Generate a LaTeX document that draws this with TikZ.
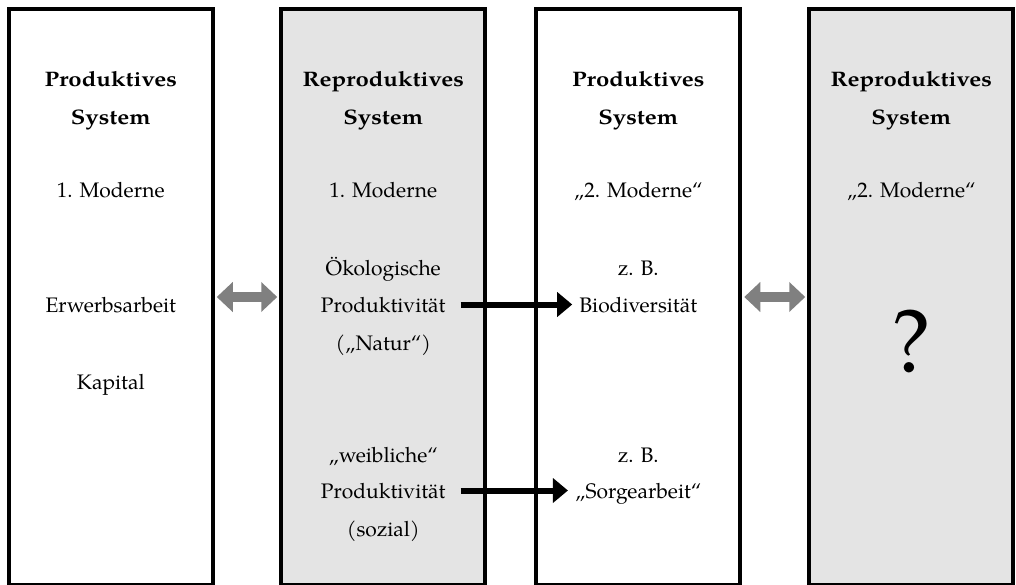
\documentclass[tikz,border=0pt]{standalone}
\usepackage{fontspec}
\setmainfont{TeX Gyre Pagella}[BoldFeatures={FakeStretch=1.14}]
\usepackage{tikz}
\usetikzlibrary{arrows.meta,positioning,calc}
\definecolor{repgray}{RGB}{228,228,228}
\definecolor{linkgray}{RGB}{128,128,128}

\begin{document}
\begin{tikzpicture}[x=1pt, y=-1pt,
    sysbox/.style={rectangle, draw=black, line width=4pt, minimum width=204pt, minimum height=576pt, inner sep=0pt},
    repbox/.style={sysbox, fill=repgray},
    lbl/.style={anchor=base, inner sep=3pt, text height=15pt, text depth=0pt, font=\fontsize{21}{25}\selectfont},
    title/.style={lbl, font=\fontsize{21}{25}\selectfont\bfseries},
    swap/.style={{Triangle[length=16pt,width=29pt]}-{Triangle[length=16pt,width=29pt]}, line width=10pt, linkgray, shorten <=2pt, shorten >=2pt},
    flow/.style={-{Triangle[length=15pt,width=24pt]}, line width=6pt, black}
  ]
    \useasboundingbox (0,0) rectangle (1016,585);

    \node[sysbox] (prod1) at (110.75, 297) {};
    \node[repbox] (repr1) at (383.25, 297) {};
    \node[sysbox] (prod2) at (638.25, 297) {};
    \node[repbox] (repr2) at (911.25, 297) {};

    % column 1
    \node[title] (t1a) at (110.75, 87) {Produktives};
    \node[title] (t1b) at (110.75, 125) {System};
    \node[lbl] (m1) at (110.75, 198) {1. Moderne};
    \node[lbl] (erwerb) at (110.75, 312) {Erwerbsarbeit};
    \node[lbl] (kapital) at (110.75, 389) {Kapital};

    % column 2
    \node[title] (t2a) at (383.25, 87) {Reproduktives};
    \node[title] (t2b) at (383.25, 125) {System};
    \node[lbl] (m2) at (383.25, 198) {1. Moderne};
    \node[lbl] (oeko) at (383.25, 275) {Ökologische};
    \node[lbl] (oekoprod) at (383.25, 312) {Produktivität};
    \node[lbl] (natur) at (383.25, 350) {(„Natur“)};
    \node[lbl] (weibl) at (383.25, 462) {„weibliche“};
    \node[lbl] (weiblprod) at (383.25, 498) {Produktivität};
    \node[lbl] (sozial) at (383.25, 536) {(sozial)};

    % column 3
    \node[title] (t3a) at (638.25, 87) {Produktives};
    \node[title] (t3b) at (638.25, 125) {System};
    \node[lbl] (m3) at (638.25, 198) {„2. Moderne“};
    \node[lbl] (zb1) at (638.25, 275) {z. B.};
    \node[lbl] (bio) at (638.25, 312) {Biodiversität};
    \node[lbl] (zb2) at (638.25, 462) {z. B.};
    \node[lbl] (sorge) at (638.25, 498) {„Sorgearbeit“};

    % column 4
    \node[title] (t4a) at (911.25, 87) {Reproduktives};
    \node[title] (t4b) at (911.25, 125) {System};
    \node[lbl] (m4) at (911.25, 198) {„2. Moderne“};
    \node[anchor=base, inner sep=0pt, font=\fontsize{90}{90}\selectfont] (open) at (911.25, 372) {?};

    \draw[swap] (prod1.east) -- (repr1.west);
    \draw[swap] (prod2.east) -- (repr2.west);
    \draw[flow, shorten <=12pt, shorten >=4pt] (oekoprod.east) -- (bio.west);
    \draw[flow, shorten <=12pt, shorten >=4pt] (weiblprod.east) -- (sorge.west);
  \end{tikzpicture}
\end{document}
